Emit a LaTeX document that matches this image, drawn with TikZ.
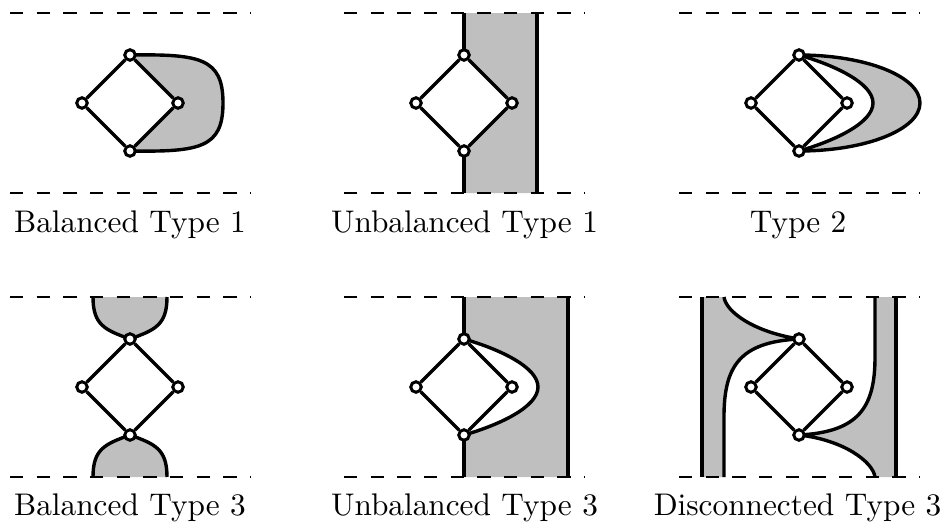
\documentclass[tikz,border=0pt]{standalone}
\pgfdeclarelayer{bg}
\pgfsetlayers{bg,main}
\tikzset{
  vtx/.style={circle,draw,fill=white,line width=3pt,minimum size=10.5pt,inner sep=0pt},
  diaedge/.style={line width=3.4pt},
  bnd/.style={line width=3.4pt,line join=round},
  shade/.style={fill=lightgray},
  guide/.style={line width=2.2pt,dash pattern=on 13.33pt off 13.33pt},
  lbl/.style={scale=3.13,anchor=base},
}
\newcommand\mydiam[1]{%
  \node[vtx] (#1t) at (0,-48) {};
  \node[vtx] (#1l) at (-48,0) {};
  \node[vtx] (#1r) at (48,0) {};
  \node[vtx] (#1b) at (0,48) {};
  \draw[diaedge] (#1t) -- (#1l);
  \draw[diaedge] (#1l) -- (#1b);
  \draw[diaedge] (#1b) -- (#1r);
  \draw[diaedge] (#1r) -- (#1t);
}
\newcommand\myguides{%
  \draw[guide] (-120,-90) -- (121,-90);
  \draw[guide] (-120,90) -- (121,90);
}
\begin{document}
\begin{tikzpicture}[x=1pt,y=-1pt]
\useasboundingbox (0,0) rectangle (946,525);

% Panel 1: Balanced Type 1
\begin{scope}[shift={(130,103)}]
  \mydiam{a}
  \begin{pgfonlayer}{bg}
    \fill[shade] (at.center) -- (ar.center) -- (ab.center) .. controls (70,49) and (93,45) .. (93,0) .. controls (93,-45) and (70,-49) .. (at.center) -- cycle;
    \draw[bnd] (at.center) .. controls (70,-49) and (93,-45) .. (93,0) .. controls (93,45) and (70,49) .. (ab.center);
  \end{pgfonlayer}
  \myguides
\end{scope}
\node[lbl] (lab1) at (130,232) {Balanced Type 1};

% Panel 2: Unbalanced Type 1
\begin{scope}[shift={(464,103)}]
  \mydiam{b}
  \coordinate (b1) at (0,-90);
  \coordinate (b2) at (0,90);
  \coordinate (b3) at (73,-90);
  \coordinate (b4) at (73,90);
  \begin{pgfonlayer}{bg}
    \fill[shade] (b1) -- (b3) -- (b4) -- (b2) -- (bb.center) -- (br.center) -- (bt.center) -- cycle;
    \draw[bnd] (bt.center) -- (b1);
    \draw[bnd] (bb.center) -- (b2);
    \draw[bnd] (b3) -- (b4);
  \end{pgfonlayer}
  \myguides
\end{scope}
\node[lbl] (lab2) at (464.5,232) {Unbalanced Type 1};

% Panel 3: Type 2
\begin{scope}[shift={(799,103)}]
  \mydiam{c}
  \begin{pgfonlayer}{bg}
    \fill[shade] (ct.center) .. controls (67,-48) and (121,-26.5) .. (121,0) .. controls (121,26.5) and (67,48) .. (cb.center)
      .. controls (35,38) and (74,20) .. (74,0) .. controls (74,-20) and (35,-38) .. (ct.center) -- cycle;
    \draw[bnd] (ct.center) .. controls (67,-48) and (121,-26.5) .. (121,0) .. controls (121,26.5) and (67,48) .. (cb.center);
    \draw[bnd] (ct.center) .. controls (35,-38) and (74,-20) .. (74,0) .. controls (74,20) and (35,38) .. (cb.center);
  \end{pgfonlayer}
  \myguides
\end{scope}
\node[lbl] (lab3) at (798,232) {Type 2};

% Panel 4: Balanced Type 3
\begin{scope}[shift={(130,387)}]
  \mydiam{d}
  \begin{pgfonlayer}{bg}
    \fill[shade] (-37,-90) .. controls (-37,-62) and (-25,-57) .. (dt.center) .. controls (25,-57) and (37,-62) .. (37,-90) -- cycle;
    \draw[bnd] (-37,-90) .. controls (-37,-62) and (-25,-57) .. (dt.center) .. controls (25,-57) and (37,-62) .. (37,-90);
    \fill[shade] (-37,90) .. controls (-37,62) and (-25,57) .. (db.center) .. controls (25,57) and (37,62) .. (37,90) -- cycle;
    \draw[bnd] (-37,90) .. controls (-37,62) and (-25,57) .. (db.center) .. controls (25,57) and (37,62) .. (37,90);
  \end{pgfonlayer}
  \myguides
\end{scope}
\node[lbl] (lab4) at (130,515.5) {Balanced Type 3};

% Panel 5: Unbalanced Type 3
\begin{scope}[shift={(464,387)}]
  \mydiam{e}
  \coordinate (e1) at (0,-90);
  \coordinate (e2) at (0,90);
  \coordinate (e3) at (104,-90);
  \coordinate (e4) at (104,90);
  \begin{pgfonlayer}{bg}
    \fill[shade] (e1) -- (e3) -- (e4) -- (e2) -- (eb.center) .. controls (35,38) and (74,20) .. (74,0) .. controls (74,-20) and (35,-38) .. (et.center) -- cycle;
    \draw[bnd] (et.center) -- (e1);
    \draw[bnd] (eb.center) -- (e2);
    \draw[bnd] (e3) -- (e4);
    \draw[bnd] (et.center) .. controls (35,-38) and (74,-20) .. (74,0) .. controls (74,20) and (35,38) .. (eb.center);
  \end{pgfonlayer}
  \myguides
\end{scope}
\node[lbl] (lab5) at (464.5,515.5) {Unbalanced Type 3};

% Panel 6: Disconnected Type 3
\begin{scope}[shift={(799,387)}]
  \mydiam{f}
  \begin{pgfonlayer}{bg}
    \fill[shade] (-97,-90) -- (-75,-90) .. controls (-73,-75) and (-45,-55) .. (ft.center) .. controls (-60,-45) and (-75,-20) .. (-75,30) -- (-75,90) -- (-97,90) -- cycle;
    \draw[bnd] (-75,-90) .. controls (-73,-75) and (-45,-55) .. (ft.center) .. controls (-60,-45) and (-75,-20) .. (-75,30) -- (-75,90);
    \draw[bnd] (-97,-90) -- (-97,90);
    \fill[shade] (97,90) -- (76,90) .. controls (74,75) and (45,53) .. (fb.center) .. controls (60,45) and (76,20) .. (76,-30) -- (76,-90) -- (97,-90) -- cycle;
    \draw[bnd] (76,90) .. controls (74,75) and (45,53) .. (fb.center) .. controls (60,45) and (76,20) .. (76,-30) -- (76,-90);
    \draw[bnd] (97,-90) -- (97,90);
  \end{pgfonlayer}
  \myguides
\end{scope}
\node[lbl] (lab6) at (797.5,515.5) {Disconnected Type 3};

\end{tikzpicture}
\end{document}
